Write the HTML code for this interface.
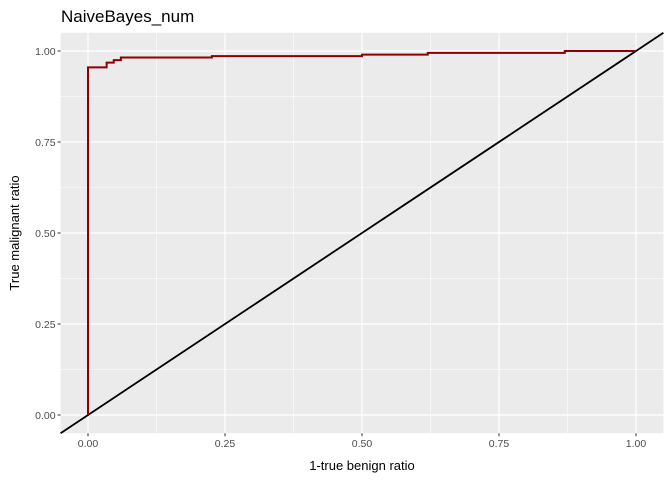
<!DOCTYPE html>
<html><head><meta charset="utf-8"><style>
body{margin:0;background:#fff;}
svg text{font-family:"Liberation Sans",sans-serif;}
</style></head><body>
<svg width="672" height="480">
<g id="plot"></g>
</svg>
<script>
const xs=[0,0,0.034,0.034,0.047,0.047,0.06,0.06,0.226,0.226,0.5,0.5,0.62,0.62,0.87,0.87,1];
const ys=[0,0.955,0.955,0.968,0.968,0.975,0.975,0.982,0.982,0.986,0.986,0.99,0.99,0.995,0.995,1,1];
const ticks=[0,0.25,0.5,0.75,1];
const tickLabels=["0.00","0.25","0.50","0.75","1.00"];
const X=v=>88+v*548, Y=v=>415-v*364;
const g=document.getElementById('plot'), NS="http://www.w3.org/2000/svg";
function el(t,a,p){const e=document.createElementNS(NS,t);for(const k in a)e.setAttribute(k,a[k]);(p||g).appendChild(e);return e;}
const bg=el('rect',{x:X(-0.05),y:Y(1.05),width:X(1.05)-X(-0.05),height:Y(-0.05)-Y(1.05),fill:'#ebebeb'});


for(let i=0;i<4;i++){const m=ticks[i]+0.125;
 el('line',{x1:X(m),x2:X(m),y1:Y(1.05),y2:Y(-0.05),stroke:'#fff','stroke-width':0.6});
 el('line',{x1:X(-0.05),x2:X(1.05),y1:Y(m),y2:Y(m),stroke:'#fff','stroke-width':0.6});}
ticks.forEach((t,i)=>{
 el('line',{x1:X(t),x2:X(t),y1:Y(1.05),y2:Y(-0.05),stroke:'#fff','stroke-width':1.2});
 el('line',{x1:X(-0.05),x2:X(1.05),y1:Y(t),y2:Y(t),stroke:'#fff','stroke-width':1.2});
 el('line',{x1:X(t),x2:X(t),y1:Y(-0.05),y2:Y(-0.05)+3,stroke:'#333'});
 el('line',{x1:X(-0.05)-3,x2:X(-0.05),y1:Y(t),y2:Y(t),stroke:'#333'});
 const xl=el('text',{x:X(t),y:Y(-0.05)+14,'text-anchor':'middle','font-size':10.5,fill:'#4d4d4d'});xl.textContent=tickLabels[i];
 
 
 const yl=el('text',{x:X(-0.05)-5,y:Y(t)+4,'text-anchor':'end','font-size':10.5,fill:'#4d4d4d'});yl.textContent=tickLabels[i];
 
 
});
const diag=el('line',{x1:X(-0.05),y1:Y(-0.05),x2:X(1.05),y2:Y(1.05),stroke:'#000','stroke-width':1.8});


const roc=el('polyline',{points:xs.map((x,i)=>X(x)+','+Y(ys[i])).join(' '),fill:'none',stroke:'#8b0000','stroke-width':2});


const ti=el('text',{x:61,y:22,'font-size':17,fill:'#000'});ti.textContent='NaiveBayes_num';


const xt=el('text',{x:362,y:470,'text-anchor':'middle','font-size':13,fill:'#000'});xt.textContent='1-true benign ratio';


const yt=el('text',{x:0,y:0,'text-anchor':'middle','font-size':13,fill:'#000',transform:'translate(19,233) rotate(-90)'});yt.textContent='True malignant ratio';


</script>
</body></html>
